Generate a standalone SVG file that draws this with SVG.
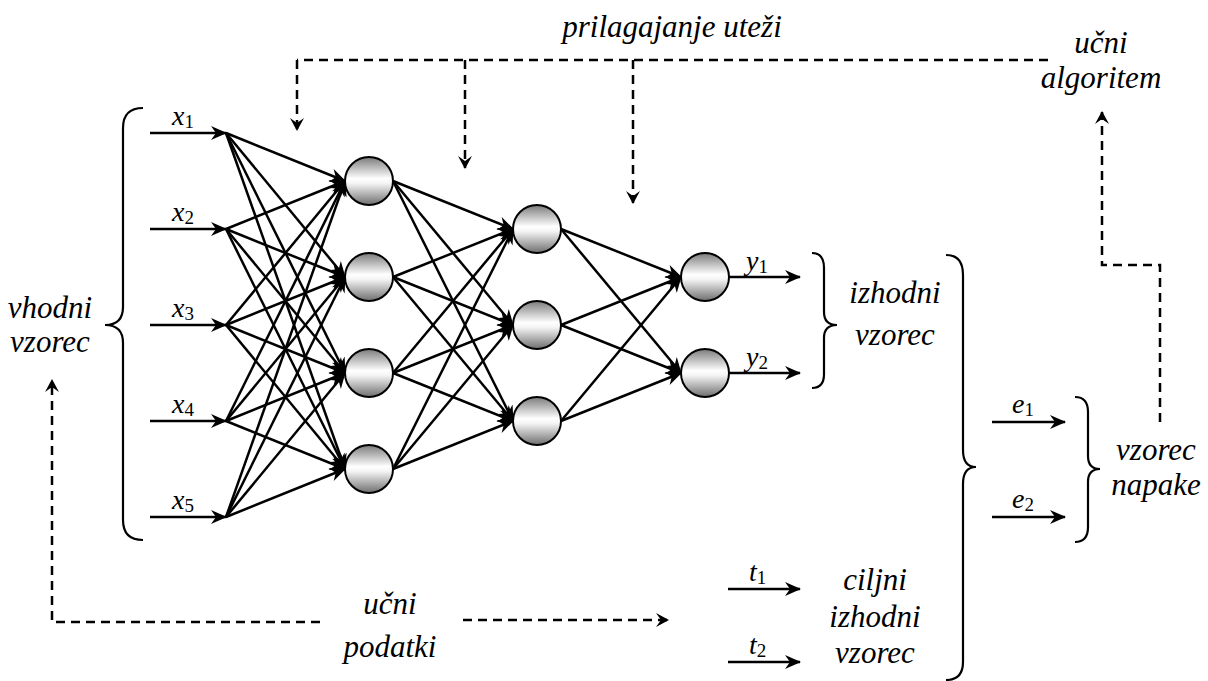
<svg xmlns="http://www.w3.org/2000/svg" width="1208" height="681" viewBox="0 0 1208 681">
  <style>
    text { font-family: 'Liberation Serif', 'Times New Roman', Times, serif; font-style: italic; fill: #000; }
    .lbl { font-size: 31px; text-anchor: middle; }
    .var { font-size: 28px; }
    .sub { font-style: normal; font-size: 19px; }
    .edge { stroke: #000; stroke-width: 2.5; fill: none; marker-end: url(#arrow); }
    .dash { stroke: #000; stroke-width: 2.5; fill: none; stroke-dasharray: 9 6; }
    .dash-arrow { marker-end: url(#darrow); }
    .brace { stroke: #000; stroke-width: 2.2; fill: none; }
    .neuron { fill: url(#sphere); stroke: #000; stroke-width: 2; }
  </style>
  <defs>
    <linearGradient id="sphere" x1="0" y1="0" x2="0" y2="1">
      <stop offset="0" stop-color="#7a7a7a"/>
      <stop offset="0.45" stop-color="#ffffff"/>
      <stop offset="0.55" stop-color="#f4f4f4"/>
      <stop offset="1" stop-color="#6e6e6e"/>
    </linearGradient>
    <marker id="arrow" markerUnits="userSpaceOnUse" markerWidth="20" markerHeight="18" viewBox="-18 -9 20 18" refX="0" refY="0" orient="auto">
      <path d="M1,0 L-15,-7 L-10,0 L-15,7 Z" fill="#000"/>
    </marker>
    <marker id="darrow" markerUnits="userSpaceOnUse" markerWidth="18" markerHeight="18" viewBox="-16 -9 18 18" refX="0" refY="0" orient="auto">
      <path d="M1,0 L-12,-7 L-7,0 L-12,7 Z" fill="#000"/>
    </marker>
  </defs>

  <!-- connectors -->
  <g id="connectors">
    <!-- input lines -->
    <line class="edge" x1="150" y1="133" x2="226" y2="133"/>
    <line class="edge" x1="150" y1="229" x2="226" y2="229"/>
    <line class="edge" x1="150" y1="325" x2="226" y2="325"/>
    <line class="edge" x1="150" y1="421" x2="226" y2="421"/>
    <line class="edge" x1="150" y1="517" x2="226" y2="517"/>

    <!-- inputs to hidden layer 1 -->
    <line class="edge" x1="226" y1="133" x2="345" y2="181"/>
    <line class="edge" x1="226" y1="133" x2="345" y2="277"/>
    <line class="edge" x1="226" y1="133" x2="345" y2="373"/>
    <line class="edge" x1="226" y1="133" x2="345" y2="469"/>
    <line class="edge" x1="226" y1="229" x2="345" y2="181"/>
    <line class="edge" x1="226" y1="229" x2="345" y2="277"/>
    <line class="edge" x1="226" y1="229" x2="345" y2="373"/>
    <line class="edge" x1="226" y1="229" x2="345" y2="469"/>
    <line class="edge" x1="226" y1="325" x2="345" y2="181"/>
    <line class="edge" x1="226" y1="325" x2="345" y2="277"/>
    <line class="edge" x1="226" y1="325" x2="345" y2="373"/>
    <line class="edge" x1="226" y1="325" x2="345" y2="469"/>
    <line class="edge" x1="226" y1="421" x2="345" y2="181"/>
    <line class="edge" x1="226" y1="421" x2="345" y2="277"/>
    <line class="edge" x1="226" y1="421" x2="345" y2="373"/>
    <line class="edge" x1="226" y1="421" x2="345" y2="469"/>
    <line class="edge" x1="226" y1="517" x2="345" y2="181"/>
    <line class="edge" x1="226" y1="517" x2="345" y2="277"/>
    <line class="edge" x1="226" y1="517" x2="345" y2="373"/>
    <line class="edge" x1="226" y1="517" x2="345" y2="469"/>

    <!-- hidden layer 1 to hidden layer 2 -->
    <line class="edge" x1="393" y1="181" x2="513" y2="229"/>
    <line class="edge" x1="393" y1="181" x2="513" y2="325"/>
    <line class="edge" x1="393" y1="181" x2="513" y2="421"/>
    <line class="edge" x1="393" y1="277" x2="513" y2="229"/>
    <line class="edge" x1="393" y1="277" x2="513" y2="325"/>
    <line class="edge" x1="393" y1="277" x2="513" y2="421"/>
    <line class="edge" x1="393" y1="373" x2="513" y2="229"/>
    <line class="edge" x1="393" y1="373" x2="513" y2="325"/>
    <line class="edge" x1="393" y1="373" x2="513" y2="421"/>
    <line class="edge" x1="393" y1="469" x2="513" y2="229"/>
    <line class="edge" x1="393" y1="469" x2="513" y2="325"/>
    <line class="edge" x1="393" y1="469" x2="513" y2="421"/>

    <!-- hidden layer 2 to output layer -->
    <line class="edge" x1="561" y1="229" x2="681" y2="277"/>
    <line class="edge" x1="561" y1="229" x2="681" y2="373"/>
    <line class="edge" x1="561" y1="325" x2="681" y2="277"/>
    <line class="edge" x1="561" y1="325" x2="681" y2="373"/>
    <line class="edge" x1="561" y1="421" x2="681" y2="277"/>
    <line class="edge" x1="561" y1="421" x2="681" y2="373"/>

    <!-- outputs -->
    <line class="edge" x1="729" y1="277" x2="800" y2="277"/>
    <line class="edge" x1="729" y1="373" x2="800" y2="373"/>

    <!-- error signals -->
    <line class="edge" x1="992" y1="422" x2="1065" y2="422"/>
    <line class="edge" x1="992" y1="517" x2="1065" y2="517"/>

    <!-- target outputs -->
    <line class="edge" x1="728" y1="589" x2="800" y2="589"/>
    <line class="edge" x1="728" y1="662" x2="800" y2="662"/>

    <!-- weight adjustment feedback -->
    <path class="dash" d="M1048,60 H297"/>
    <path class="dash dash-arrow" d="M297,60 V130"/>
    <path class="dash dash-arrow" d="M465,60 V168"/>
    <path class="dash dash-arrow" d="M633,60 V203"/>

    <!-- error pattern to learning algorithm -->
    <path class="dash dash-arrow" d="M1160,422 V265 H1102 V112"/>

    <!-- training data -->
    <path class="dash dash-arrow" d="M320,622 H52 V380"/>
    <path class="dash dash-arrow" d="M463,620 H668"/>

    <!-- braces -->
    <path class="brace" d="M143,108 Q123,108 123,128 L123,307 Q123,325 105,325 Q123,325 123,343 L123,520 Q123,540 143,540"/>
    <path class="brace" d="M812,253 Q824,253 824,268 L824,312 Q824,325 837,325 Q824,325 824,338 L824,374 Q824,388 812,388"/>
    <path class="brace" d="M946,255 Q963,255 963,275 L963,450 Q963,467 976,467 Q963,467 963,484 L963,662 Q963,680 946,680"/>
    <path class="brace" d="M1075,397 Q1088,397 1088,412 L1088,456 Q1088,469 1100,469 Q1088,469 1088,482 L1088,527 Q1088,542 1075,542"/>
  </g>

  <!-- hidden layer 1 -->
  <g id="h1-1"><circle class="neuron" cx="369" cy="181" r="24"/></g>
  <g id="h1-2"><circle class="neuron" cx="369" cy="277" r="24"/></g>
  <g id="h1-3"><circle class="neuron" cx="369" cy="373" r="24"/></g>
  <g id="h1-4"><circle class="neuron" cx="369" cy="469" r="24"/></g>

  <!-- hidden layer 2 -->
  <g id="h2-1"><circle class="neuron" cx="537" cy="229" r="24"/></g>
  <g id="h2-2"><circle class="neuron" cx="537" cy="325" r="24"/></g>
  <g id="h2-3"><circle class="neuron" cx="537" cy="421" r="24"/></g>

  <!-- output layer -->
  <g id="out-1"><circle class="neuron" cx="705" cy="277" r="24"/></g>
  <g id="out-2"><circle class="neuron" cx="705" cy="373" r="24"/></g>

  <!-- input labels -->
  <g id="inputs">
    <text class="var" x="172" y="125">x<tspan class="sub" dy="3">1</tspan></text>
    <text class="var" x="172" y="221">x<tspan class="sub" dy="3">2</tspan></text>
    <text class="var" x="172" y="317">x<tspan class="sub" dy="3">3</tspan></text>
    <text class="var" x="172" y="413">x<tspan class="sub" dy="3">4</tspan></text>
    <text class="var" x="172" y="509">x<tspan class="sub" dy="3">5</tspan></text>
  </g>

  <!-- output labels -->
  <g id="outputs">
    <text class="var" x="746" y="270">y<tspan class="sub" dy="3">1</tspan></text>
    <text class="var" x="746" y="366">y<tspan class="sub" dy="3">2</tspan></text>
  </g>

  <!-- error labels -->
  <g id="errors">
    <text class="var" x="1012" y="413">e<tspan class="sub" dy="3">1</tspan></text>
    <text class="var" x="1012" y="508">e<tspan class="sub" dy="3">2</tspan></text>
  </g>

  <!-- target labels -->
  <g id="targets">
    <text class="var" x="749" y="581">t<tspan class="sub" dy="3">1</tspan></text>
    <text class="var" x="749" y="654">t<tspan class="sub" dy="3">2</tspan></text>
  </g>

  <!-- text blocks -->
  <g id="input-pattern">
    <text class="lbl" x="50" y="318">vhodni</text>
    <text class="lbl" x="50" y="352">vzorec</text>
  </g>
  <g id="output-pattern">
    <text class="lbl" x="895" y="303">izhodni</text>
    <text class="lbl" x="895" y="345">vzorec</text>
  </g>
  <g id="error-pattern">
    <text class="lbl" x="1156" y="460">vzorec</text>
    <text class="lbl" x="1156" y="495">napake</text>
  </g>
  <g id="learning-algorithm">
    <text class="lbl" x="1101" y="53">učni</text>
    <text class="lbl" x="1101" y="88">algoritem</text>
  </g>
  <g id="weight-adjustment">
    <text class="lbl" x="672" y="37">prilagajanje uteži</text>
  </g>
  <g id="training-data">
    <text class="lbl" x="390" y="614">učni</text>
    <text class="lbl" x="390" y="657">podatki</text>
  </g>
  <g id="target-pattern">
    <text class="lbl" x="875" y="590">ciljni</text>
    <text class="lbl" x="875" y="627">izhodni</text>
    <text class="lbl" x="875" y="663">vzorec</text>
  </g>
</svg>
